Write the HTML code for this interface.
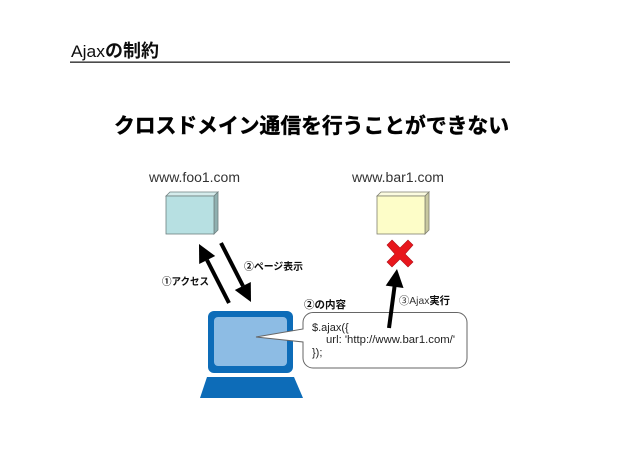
<!DOCTYPE html>
<html lang="ja"><head><meta charset="utf-8"><style>
html,body{margin:0;padding:0;background:#fff}
svg{display:block}
text{font-family:"Liberation Sans","Noto Sans CJK JP",sans-serif;fill:#111}
.b{font-weight:700}
</style></head><body>
<svg width="640" height="452" viewBox="0 0 640 452" xmlns="http://www.w3.org/2000/svg">
<defs><filter id="s" x="0" y="0" width="100%" height="100%"><feGaussianBlur stdDeviation="0.35"/></filter></defs>
<rect width="640" height="452" fill="#fff"/>
<g filter="url(#s)">
<text x="71" y="57" font-size="17" textLength="34" lengthAdjust="spacingAndGlyphs">Ajax</text>
<text x="105" y="57" font-size="18" class="b" textLength="54" lengthAdjust="spacingAndGlyphs">の制約</text>
<rect x="70" y="61.500" width="440" height="1.300" fill="#222"/>
<text x="114" y="133" font-size="21" class="b" textLength="395" lengthAdjust="spacingAndGlyphs" style="fill:#000;stroke:#000;stroke-width:.45">クロスドメイン通信を行うことができない</text>
<text x="149" y="182" font-size="13.500" style="fill:#333" textLength="91" lengthAdjust="spacingAndGlyphs">www.foo1.com</text>
<text x="352" y="182" font-size="13.500" style="fill:#333" textLength="92" lengthAdjust="spacingAndGlyphs">www.bar1.com</text>

<!-- server 1 -->
<g stroke="#6f8080" stroke-width=".8">
<polygon points="166,196 170,192 218,192 214,196" fill="#d5ecec"/>
<polygon points="214,196 218,192 218,230 214,234" fill="#8fb0b0"/>
<rect x="166" y="196" width="48" height="38" fill="#b7e0e2"/>
</g>
<!-- server 2 -->
<g stroke="#808070" stroke-width=".8">
<polygon points="377,196 381,192 429,192 425,196" fill="#fbfbe0"/>
<polygon points="425,196 429,192 429,230 425,234" fill="#c8c8a0"/>
<rect x="377" y="196" width="48" height="38" fill="#fdfdc8"/>
</g>

<!-- red X -->
<polygon points="392,240 400,248 408,240 413,245 405,254 413,262 408,267 400,259 392,267 387,262 395,254 387,245" fill="#e8141c" stroke="#b01018" stroke-width=".6"/>

<!-- arrows -->
<g fill="#000">
<line x1="229" y1="303" x2="207" y2="260" stroke="#000" stroke-width="4"/>
<polygon points="199,244 215.200,256 199.200,264"/>
<line x1="221" y1="243" x2="243" y2="286" stroke="#000" stroke-width="4"/>
<polygon points="251,302 234.800,290 250.800,282"/>
</g>

<text x="162" y="285" font-size="10" class="b" textLength="47" lengthAdjust="spacingAndGlyphs">①アクセス</text>
<text x="244" y="270" font-size="10" class="b" textLength="59" lengthAdjust="spacingAndGlyphs">②ページ表示</text>
<text x="304" y="308" font-size="10.500" class="b" textLength="42" lengthAdjust="spacingAndGlyphs">②の内容</text>

<!-- computer -->
<rect x="208" y="311" width="85" height="62" rx="6" fill="#0a6cb8"/>
<rect x="214" y="317" width="73" height="49" rx="4" fill="#8dbce4"/>
<polygon points="207,377 294,377 303,398 200,398" fill="#0a6cb8"/>

<!-- bubble -->
<path d="M313,312.500 H457 a10,10 0 0 1 10,10 V358 a10,10 0 0 1 -10,10 H313 a10,10 0 0 1 -10,-10 V342 L256,337 L303,329 V322.500 a10,10 0 0 1 10,-10 Z" fill="#fff" stroke="#666" stroke-width="1"/>
<text x="312" y="331" font-size="11" style="fill:#222">$.ajax({</text>
<text x="326" y="343" font-size="11" style="fill:#222" textLength="129" lengthAdjust="spacingAndGlyphs">url: 'http://www.bar1.com/'</text>
<text x="312" y="356" font-size="11" style="fill:#222">});</text>

<!-- arrow 3 -->
<line x1="389" y1="328" x2="394.600" y2="286" stroke="#000" stroke-width="4"/>
<polygon points="397,269 403.500,288 385.700,285.600" fill="#000"/>
<text x="399" y="304" font-size="10.500" textLength="51" lengthAdjust="spacingAndGlyphs"><tspan style="fill:#333">③Ajax</tspan><tspan class="b">実行</tspan></text>
</g>
</svg>
</body></html>
